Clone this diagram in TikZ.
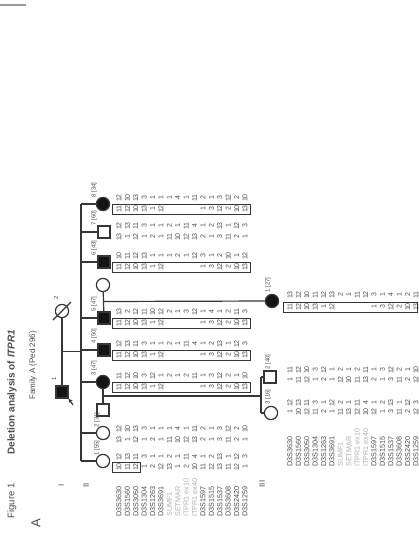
\documentclass[tikz,border=0pt]{standalone}
\usepackage{fontspec}
\setmainfont{Liberation Sans}
\usetikzlibrary{positioning,calc,arrows.meta}

\definecolor{ink}{HTML}{363636}
\definecolor{txt}{HTML}{4C4C4C}
\definecolor{faint}{HTML}{B0B0B0}

% shared (deleted) haplotype and marker names
\newcommand{\delhap}{11,12,10,13,1,12,{},{},{},{},1,3,12,2,10,13}
\newcommand{\markers}{D3S3630,D3S1560,D3S3050,D3S1304,D3S1263,D3S3691,\textcolor{faint}{SUMF1},\textcolor{faint}{SETMAR},\textcolor{faint}{ITPR1 ex10},\textcolor{faint}{ITPR1 ex40},D3S1597,D3S1515,D3S1537,D3S3608,D3S2420,D3S1259}
% one haplotype row: name, first x, y, alleles
\newcommand{\haprow}[4]{%
  \foreach \a [count=\i] in #4
    \node[allele] (#1-\i) at ({#2+8.4*(\i-1)},#3) {\a};}
% marker names: name, first x, bottom y
\newcommand{\markrow}[3]{%
  \foreach \m [count=\i] in \markers
    \node[mname] (#1-\i) at ({#2+8.4*(\i-1)},#3) {\m};}

\tikzset{
  ped/.style={draw=ink, line width=0.6pt},
  male/.style={ped, rectangle, minimum size=6pt, inner sep=0pt},
  female/.style={ped, circle, minimum size=6.6pt, inner sep=0pt},
  aff/.style={fill=black!92},
  lbl/.style={rotate=90, text=txt, inner sep=0pt, font=\fontsize{3}{3}\selectfont},
  allele/.style={rotate=90, text=txt, inner sep=0pt, font=\fontsize{3.5}{3.5}\selectfont},
  mname/.style={rotate=90, anchor=west, text=txt, inner sep=0pt, font=\fontsize{3.6}{3.6}\selectfont},
  hbox/.style={draw=ink, line width=0.5pt},
}

\begin{document}
\begin{tikzpicture}[x=0.5pt, y=-0.5pt]
  \useasboundingbox (0,0) rectangle (418,534);
  \draw[black!40, line width=1pt] (0,5) -- (26,5);

  % headings
  \node[lbl, anchor=west, font=\fontsize{4.8}{5}\selectfont] (fig) at (12,519) {Figure 1};
  \node[lbl, anchor=west, font=\bfseries\fontsize{5}{6}\selectfont] (title) at (12,455) {Deletion analysis of \textit{ITPR1}};
  \node[lbl, anchor=west, font=\fontsize{4}{4}\selectfont] (fam) at (33,400) {Family A (Ped 296)};
  \node[lbl, font=\fontsize{6.5}{7}\selectfont] (panel) at (36,523) {A};
  \node[lbl, font=\fontsize{4}{4}\selectfont] (genI) at (61,485) {I};
  \node[lbl, font=\fontsize{4}{4}\selectfont] (genII) at (86,485) {II};
  \node[lbl, font=\fontsize{4}{4}\selectfont] (genIII) at (262,484) {III};

  % generation I
  \node[male, aff] (i1) at (62,392) {};
  \node[female] (i2) at (62,311) {};
  \draw[ped] ($(i2)+(-9,9)$) -- ($(i2)+(9,-9)$);
  \node[lbl] (i1lbl) at (54,379) {1};
  \node[lbl] (i2lbl) at (56,298) {2};
  \coordinate (pr) at (73,405);
  \draw[ped, -{Stealth[length=2pt,width=2pt]}] (pr) -- (i1.south east);

  % generation II
  \node[female, aff] (ii8) at (103,204) {};
  \node[male] (ii7) at (104,232) {};
  \node[male, aff] (ii6) at (104,262) {};
  \node[female] (sp4) at (103,285) {};
  \node[male, aff] (ii5) at (104,318) {};
  \node[male, aff] (ii4) at (104,350) {};
  \node[female, aff] (ii3) at (103,382) {};
  \node[male] (sp8) at (103,410) {};
  \node[female] (ii2) at (103,433) {};
  \node[female] (ii1) at (103,461) {};

  \node[lbl] (l8) at (94,190) {8 [34]};
  \node[lbl] (l7) at (94,218) {7 [60]};
  \node[lbl] (l6) at (94,248) {6 [43]};
  \node[lbl] (l5) at (94,304) {5 [47]};
  \node[lbl] (l4) at (94,336) {4 [50]};
  \node[lbl] (l3) at (94,368) {3 [47]};
  \node[lbl] (l2) at (97,420) {2 [31]};
  \node[lbl] (l1) at (97,448) {1 [55]};

  % generation III
  \node[female, aff] (iii1) at (272,301) {};
  \node[male] (iii2) at (270,377) {};
  \node[female] (iii3) at (271,413) {};
  \node[lbl] (m1) at (268,285) {1 [27]};
  \node[lbl] (m2) at (268,362) {2 [40]};
  \node[lbl] (m3l) at (268,397) {3 [16]};

  % lines of descent
  \draw[ped] (i2) -- (i1);
  \coordinate (mI) at ($(i2)!0.5!(i1)$);
  \coordinate (sibII) at (81,352);
  \draw[ped] (mI) -- (sibII |- mI);
  \draw[ped] (sibII |- ii8) -- (sibII |- ii1);
  \foreach \p in {ii8,ii7,ii6,ii5,ii4,ii3,ii2,ii1}
    \draw[ped] (sibII |- \p) -- (\p);

  \draw[ped] (sp4) -- (ii5);
  \coordinate (m5) at ($(sp4)!0.5!(ii5)$);
  \draw[ped] (m5) -- (iii1);

  \draw[ped] (ii3) -- (sp8);
  \coordinate (m3) at ($(ii3)!0.5!(sp8)$);
  \coordinate (sibIII) at (261,395);
  \draw[ped] (m3) -- (sibIII |- m3);
  \draw[ped] (sibIII |- iii2) -- (sibIII |- iii3);
  \draw[ped] (sibIII |- iii2) -- (iii2);
  \draw[ped] (sibIII |- iii3) -- (iii3);

  % haplotypes, generation II
  \haprow{h8a}{119}{198}{{12,10,13,3,1,1,1,4,1,11,2,1,3,12,2,10}}
  \haprow{h8b}{119}{209}{\delhap}
  \draw[hbox] (112,204) rectangle (250,214);
  \haprow{h7a}{119}{226}{{12,13,11,3,1,1,2,1,11,4,1,2,13,1,12,3}}
  \haprow{h7b}{119}{237}{{13,1,12,1,2,1,11,10,12,13,2,1,3,11,2,1}}
  \haprow{h6a}{119}{256}{{10,11,12,13,1,1,1,2,1,12,3,1,2,10,1,12}}
  \haprow{h6b}{119}{267}{\delhap}
  \draw[hbox] (112,262) rectangle (250,272);
  \haprow{h5a}{119}{312}{{13,2,12,11,10,12,2,1,3,12,1,4,1,2,11,3}}
  \haprow{h5b}{119}{323}{\delhap}
  \draw[hbox] (112,318) rectangle (250,328);
  \haprow{h4a}{119}{344}{{12,13,11,3,1,1,2,1,11,4,1,2,13,1,12,3}}
  \haprow{h4b}{119}{355}{\delhap}
  \draw[hbox] (112,350) rectangle (250,360);
  \haprow{h3a}{119}{376}{{11,12,10,3,12,1,2,1,2,11,1,3,12,2,1,10}}
  \haprow{h3b}{119}{387}{\delhap}
  \draw[hbox] (112,382) rectangle (250,392);
  \haprow{h2a}{119}{429}{{12,10,13,3,1,1,1,4,1,11,2,1,3,12,2,10}}
  \haprow{h2b}{119}{440}{{13,1,12,1,2,1,11,10,12,13,2,1,3,11,2,1}}
  \haprow{h1a}{119}{457}{{12,13,11,3,1,1,2,1,11,4,1,2,13,1,12,3}}
  \haprow{h1b}{119}{467}{{10,11,12,1,2,12,13,1,2,10,11,12,13,11,12,1}}
  \draw[hbox] (112,462) rectangle (140,472);
  \markrow{mk2}{119}{517}

  % haplotypes, generation III
  \haprow{g1a}{290}{295}{{13,12,10,11,12,13,2,1,11,12,3,1,4,1,2,11}}
  \haprow{g1b}{290}{307}{\delhap}
  \draw[hbox] (283,302) rectangle (417,312);
  \haprow{g2a}{290}{370}{{11,12,10,3,12,1,2,1,2,11,1,3,12,2,1,10}}
  \haprow{g2b}{290}{380}{{1,11,12,1,2,1,12,10,11,13,2,1,3,11,2,12}}
  \haprow{g3a}{290}{403}{{12,13,11,3,1,12,2,1,11,4,1,2,13,1,12,3}}
  \haprow{g3b}{290}{412}{{1,10,12,11,2,1,11,13,12,10,12,1,3,11,2,12}}
  \markrow{mk3}{290}{467}
\end{tikzpicture}
\end{document}
